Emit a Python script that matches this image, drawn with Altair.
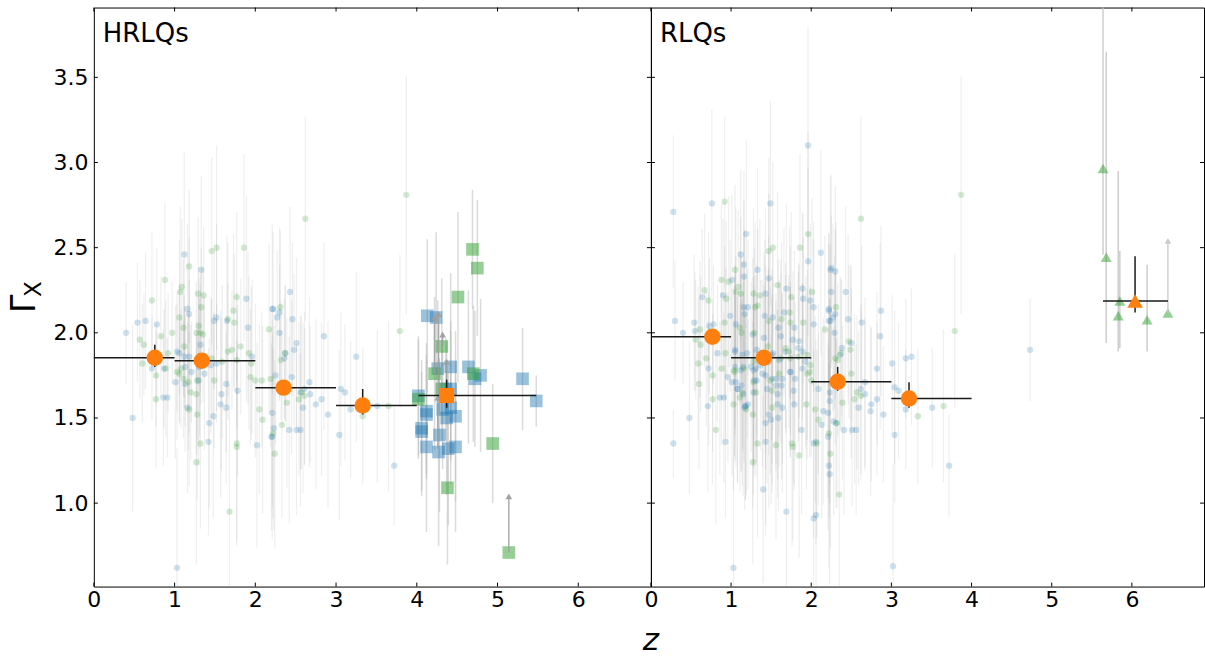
import altair as alt
import pandas as pd

# ---------------- data ----------------
X_DOMAIN = [0, 6.9]
Y_DOMAIN = [0.51, 3.91]
X_TICKS = [0, 1, 2, 3, 4, 5, 6]
Y_TICKS = [1.0, 1.5, 2.0, 2.5, 3.0, 3.5]

# HRLQs panel: faint circles [z, Gamma, err]
HR_BLUE = [[0.40,2.00,0.30],[0.54,2.06,0.35],[0.64,2.07,0.40],[0.78,2.05,0.45],[1.12,2.46,0.60],[1.33,2.37,0.55],
 [1.16,2.14,0.50],[1.18,2.11,0.45],[1.52,2.09,0.55],[1.49,2.07,0.40],[1.65,2.07,0.50],[1.89,2.20,0.60],[1.91,2.03,0.45],
 [2.21,2.14,0.50],[1.03,1.89,0.35],[1.06,1.88,0.40],[1.12,1.86,0.30],[1.18,1.86,0.45],[1.32,1.93,0.35],[1.30,1.82,0.50],
 [1.45,1.81,0.40],[1.52,1.82,0.35],[0.72,1.79,0.30],[0.87,1.79,0.35],[1.01,1.71,0.45],[1.13,1.70,0.40],[1.21,1.77,0.30],
 [1.13,1.80,0.35],[1.31,1.80,0.40],[1.37,1.76,0.45],[1.30,1.72,0.50],[1.64,1.70,0.40],[1.58,1.64,0.45],[1.78,1.66,0.50],
 [1.57,1.58,0.55],[1.64,1.56,0.45],[1.16,1.56,0.50],[0.86,1.62,0.40],[0.91,1.62,0.35],[0.48,1.50,0.55],[1.48,1.51,0.60],
 [1.43,1.47,0.50],[1.42,1.36,0.55],[2.02,1.34,0.60],[1.96,1.86,0.45],[2.20,1.39,0.55],[1.03,0.62,0.70],[2.43,2.24,0.50],
 [2.22,2.14,0.45],[2.27,2.09,0.40],[2.30,2.12,0.50],[2.46,2.08,0.45],[2.30,2.00,0.40],[2.51,1.94,0.50],[2.48,1.90,0.45],
 [2.37,1.88,0.40],[2.36,1.85,0.35],[2.25,1.75,0.40],[2.45,1.74,0.45],[2.67,1.71,0.50],[2.61,1.67,0.45],[2.68,1.64,0.40],
 [2.56,1.65,0.45],[2.75,1.58,0.50],[2.82,1.61,0.45],[2.90,1.52,0.55],[2.59,1.56,0.50],[2.21,1.53,0.55],[2.23,1.44,0.60],
 [2.42,1.43,0.55],[2.51,1.43,0.50],[2.56,1.43,0.45],[3.18,1.55,0.40],[3.06,1.67,0.45],[3.11,1.65,0.40],[3.04,1.40,0.50],
 [2.85,1.98,0.55],[3.25,1.86,0.50],[3.51,1.57,0.45],[3.72,1.22,0.35],[2.21,1.39,0.60]]
HR_GREEN = [[0.88,2.31,0.45],[0.72,2.19,0.40],[1.46,2.48,0.55],[1.52,2.50,0.60],[1.86,2.50,0.55],[1.18,2.39,0.45],
 [1.09,2.27,0.40],[1.07,2.24,0.50],[1.29,2.23,0.45],[1.36,2.22,0.40],[1.33,2.15,0.35],[1.06,2.09,0.45],[1.11,2.03,0.40],
 [1.30,2.04,0.35],[1.27,2.00,0.30],[1.32,2.00,0.35],[1.35,1.99,0.40],[1.77,2.21,0.50],[1.73,2.13,0.45],[1.74,2.06,0.40],
 [0.83,1.98,0.35],[0.97,2.00,0.30],[0.57,1.96,0.35],[0.62,1.93,0.30],[0.60,1.82,0.35],[0.77,1.75,0.30],[0.92,1.88,0.35],
 [0.89,1.79,0.40],[1.12,1.92,0.30],[1.08,1.79,0.35],[1.03,1.77,0.40],[1.06,1.76,0.30],[1.11,1.73,0.35],[1.17,1.71,0.40],
 [1.28,1.72,0.35],[1.49,1.72,0.40],[1.59,1.83,0.45],[1.66,1.89,0.40],[1.71,1.90,0.35],[1.82,1.92,0.40],[1.92,1.88,0.45],
 [2.17,2.02,0.50],[1.94,1.74,0.40],[2.00,1.72,0.45],[2.08,1.72,0.40],[2.05,1.55,0.50],[2.09,1.49,0.55],[1.77,1.35,0.60],
 [1.77,1.33,0.55],[1.32,1.35,0.50],[1.27,1.24,0.60],[1.20,1.65,0.40],[1.27,1.64,0.35],[1.18,1.55,0.45],[1.28,1.52,0.50],
 [0.77,1.61,0.40],[1.66,2.08,0.45],[1.46,1.85,0.35],[1.77,1.84,0.40],[1.95,1.82,0.45],[1.68,0.95,0.75],[2.62,2.67,0.60],
 [2.31,2.15,0.45],[2.37,1.88,0.40],[2.32,1.84,0.35],[2.19,1.73,0.40],[2.54,1.61,0.45],[2.61,1.63,0.40],[2.57,1.65,0.45],
 [2.39,1.59,0.50],[2.33,1.46,0.55],[2.22,1.41,0.50],[2.24,1.29,0.55],[3.33,1.51,0.40],[3.65,1.57,0.50],[3.79,2.01,0.45],
 [3.87,2.81,0.70]]
# HRLQs high-z squares [z, Gamma, err]
HR_SQ_BLUE = [[4.13,2.10,0.45],[4.24,2.09,0.50],[4.26,1.79,0.40],[4.42,1.80,0.55],[4.64,1.80,0.45],[4.72,1.73,0.40],
 [4.79,1.75,0.45],[5.31,1.73,0.30],[5.48,1.60,0.15],[4.02,1.63,0.35],[4.36,1.67,0.30],[4.42,1.67,0.40],[4.32,1.55,0.35],
 [4.42,1.56,0.45],[4.12,1.54,0.40],[4.12,1.52,0.35],[4.48,1.51,0.50],[4.37,1.50,0.45],[4.06,1.44,0.40],[4.06,1.42,0.35],
 [4.28,1.40,0.45],[4.12,1.33,0.50],[4.27,1.30,0.55],[4.39,1.32,0.45],[4.48,1.33,0.50]]
HR_SQ_GREEN = [[4.69,2.49,0.35],[4.75,2.38,0.40],[4.51,2.21,0.50],[4.31,1.92,0.40],[4.22,1.76,0.45],[4.70,1.76,0.40],
 [4.02,1.61,0.35],[4.31,1.67,0.30],[4.94,1.35,0.35],[4.38,1.09,0.45],[5.14,0.71,0.0]]
# lower limits [z, Gamma, arrow tip]
HR_ARROWS = [[4.22,1.76,2.09],[4.27,1.60,2.11],[4.32,1.92,1.99],[4.37,1.66,1.83],[4.26,1.32,1.62],[5.14,0.71,1.04]]
# binned means [z, Gamma, zlo, zhi, Glo, Ghi]
HR_BINS = [[0.755,1.854,0,1,1.80,1.93],[1.337,1.836,1,2,1.80,1.87],[2.35,1.678,2,3,1.64,1.71],[3.33,1.573,3,4,1.52,1.67]]
HR_HIGHZ = [[4.37,1.632,4.02,5.48,1.56,1.725]]

# RLQs panel
RL_BLUE = [[0.28,2.71,0.45],[0.76,2.76,0.55],[1.49,2.76,0.60],[1.96,3.10,0.70],[1.19,2.58,0.55],[1.12,2.46,0.50],
 [1.16,2.40,0.55],[1.16,2.33,0.45],[1.33,2.37,0.60],[1.47,2.32,0.50],[1.96,2.42,0.55],[2.12,2.47,0.60],[2.24,2.37,0.55],
 [1.69,2.26,0.50],[1.89,2.26,0.45],[1.01,2.31,0.50],[0.90,2.22,0.45],[0.64,2.21,0.40],[1.90,2.20,0.50],[1.99,2.19,0.45],
 [2.03,2.15,0.50],[2.22,2.13,0.45],[1.43,2.23,0.50],[1.16,2.15,0.45],[1.21,2.15,0.40],[0.99,2.10,0.45],[1.06,2.05,0.40],
 [1.17,2.11,0.50],[1.42,2.10,0.45],[1.52,2.09,0.40],[1.66,2.12,0.50],[1.79,2.03,0.45],[1.59,2.03,0.40],[2.03,2.05,0.50],
 [2.22,2.07,0.45],[0.30,2.07,0.35],[0.54,2.06,0.40],[0.78,2.05,0.35],[0.73,2.04,0.40],[0.40,2.00,0.30],[0.55,2.01,0.35],
 [1.27,1.99,0.45],[1.41,1.97,0.50],[1.62,1.98,0.45],[1.77,1.96,0.40],[1.85,1.95,0.45],[0.83,1.88,0.40],[1.05,1.89,0.45],
 [1.32,1.90,0.50],[1.52,1.88,0.45],[1.89,1.89,0.40],[0.72,1.79,0.45],[1.15,1.80,0.50],[1.41,1.83,0.45],[1.74,1.77,0.50],
 [1.28,1.78,0.55],[2.25,2.38,0.55],[2.30,2.36,0.50],[2.25,2.24,0.45],[2.43,2.24,0.50],[2.22,2.14,0.45],[2.30,2.11,0.50],
 [2.27,2.09,0.55],[2.24,2.07,0.45],[2.46,2.08,0.50],[2.63,2.06,0.45],[2.87,2.13,0.50],[2.29,2.00,0.45],[2.86,1.98,0.55],
 [2.50,1.94,0.45],[2.38,1.91,0.40],[2.36,1.87,0.45],[3.01,1.82,0.40],[3.18,1.85,0.35],[3.25,1.86,0.40],[2.82,1.79,0.45],
 [0.28,1.35,0.20],[0.48,1.50,0.45],[0.71,1.57,0.50],[0.86,1.62,0.45],[0.91,1.62,0.50],[0.93,1.36,0.45],[0.96,1.74,0.50],
 [1.01,1.71,0.55],[1.13,1.69,0.50],[1.08,1.67,0.55],[1.15,1.64,0.60],[1.18,1.57,0.55],[1.21,1.58,0.50],[1.29,1.72,0.55],
 [1.32,1.72,0.50],[1.39,1.76,0.55],[1.56,1.73,0.50],[1.63,1.69,0.55],[1.58,1.64,0.50],[1.58,1.58,0.55],[1.64,1.56,0.50],
 [1.78,1.66,0.55],[1.79,1.58,0.50],[1.47,1.52,0.55],[1.50,1.49,0.50],[1.59,1.50,0.55],[1.43,1.47,0.60],[1.43,1.36,0.55],
 [1.88,1.43,0.50],[2.03,1.35,0.55],[2.06,1.36,0.60],[2.09,1.67,0.50],[2.15,1.54,0.55],[2.21,1.53,0.50],[2.23,1.65,0.55],
 [2.23,1.60,0.60],[2.28,1.48,0.55],[2.31,1.47,0.50],[2.21,1.39,0.55],[2.22,1.22,0.60],[2.23,1.17,0.65],[2.41,1.43,0.50],
 [2.51,1.43,0.45],[2.56,1.43,0.50],[2.13,1.46,0.55],[2.59,1.56,0.45],[2.62,1.67,0.50],[2.67,1.64,0.45],[2.67,1.71,0.50],
 [2.75,1.58,0.45],[2.74,1.54,0.50],[2.82,1.61,0.45],[2.90,1.52,0.40],[3.04,1.68,0.45],[3.09,1.66,0.40],[3.18,1.55,0.35],
 [3.04,1.40,0.40],[3.51,1.56,0.35],[3.72,1.22,0.30],[1.03,0.62,0.65],[3.02,0.63,0.60],[1.40,1.08,0.55],[1.69,0.95,0.60],
 [2.03,0.91,0.65],[2.06,0.93,0.60],[4.73,1.90,0.30],[1.05,1.90,0.50],[1.14,1.87,0.55],[1.20,1.88,0.50],[1.05,1.80,0.55],
 [1.12,1.78,0.60],[1.25,1.80,0.50],[1.31,1.79,0.55],[1.37,1.81,0.50],[1.47,1.83,0.55],[1.51,1.87,0.50],[1.60,1.84,0.45],
 [1.43,1.75,0.55],[1.51,1.73,0.50],[1.18,1.57,0.55],[1.17,1.56,0.60],[1.06,1.71,0.50],[1.08,1.67,0.55],[1.28,1.65,0.60],
 [1.45,1.67,0.55],[1.56,1.69,0.50],[1.64,1.73,0.50],[1.80,1.73,0.45],[1.89,1.79,0.50],[1.74,1.77,0.50],[1.68,1.89,0.45],
 [1.84,1.91,0.50],[1.93,1.83,0.50]]
RL_GREEN = [[0.92,2.77,0.50],[1.96,2.58,0.60],[1.47,2.48,0.55],[1.52,2.50,0.50],[1.86,2.50,0.55],[1.05,2.37,0.50],
 [0.88,2.31,0.45],[0.97,2.30,0.50],[1.09,2.27,0.45],[1.06,2.24,0.50],[1.12,2.23,0.45],[1.28,2.23,0.50],[1.36,2.22,0.45],
 [1.58,2.28,0.55],[1.75,2.21,0.50],[2.01,2.24,0.55],[0.67,2.25,0.45],[0.72,2.19,0.40],[0.94,2.20,0.45],[1.30,2.15,0.50],
 [1.33,2.16,0.45],[1.47,2.07,0.50],[1.63,2.08,0.45],[1.73,2.12,0.50],[1.74,2.06,0.45],[1.90,2.06,0.50],[2.17,2.02,0.55],
 [0.92,2.06,0.45],[0.61,2.02,0.40],[0.56,1.96,0.35],[0.62,1.93,0.40],[1.11,2.03,0.45],[1.29,2.00,0.50],[1.13,2.00,0.45],
 [0.69,1.85,0.40],[0.59,1.82,0.45],[0.93,1.88,0.50],[1.46,1.92,0.45],[1.68,1.91,0.50],[1.72,1.89,0.45],[1.95,1.87,0.50],
 [0.88,1.79,0.45],[1.04,1.78,0.50],[1.60,1.76,0.55],[1.98,1.77,0.50],[3.87,2.81,0.70],[2.62,2.67,0.60],[3.79,2.01,0.45],
 [2.31,2.15,0.50],[2.47,1.95,0.45],[2.49,1.90,0.50],[2.37,1.88,0.45],[2.30,1.85,0.50],[2.33,1.84,0.45],[2.50,1.76,0.50],
 [0.60,1.70,0.50],[0.77,1.75,0.45],[0.77,1.61,0.50],[0.81,1.43,0.55],[1.03,1.58,0.50],[1.11,1.62,0.55],[1.19,1.55,0.50],
 [1.27,1.52,0.55],[1.27,1.24,0.60],[1.33,1.35,0.55],[1.51,1.56,0.50],[1.56,1.34,0.55],[1.76,1.35,0.60],[1.77,1.33,0.55],
 [1.85,1.28,0.60],[1.94,1.58,0.50],[2.05,1.55,0.55],[2.09,1.49,0.50],[2.07,1.35,0.55],[2.22,1.41,0.50],[2.24,1.29,0.55],
 [2.32,1.47,0.50],[2.35,1.05,0.60],[2.39,1.59,0.45],[2.54,1.61,0.50],[2.57,1.65,0.45],[2.62,1.63,0.50],[3.33,1.51,0.40],
 [3.65,1.57,0.45],[1.95,1.76,0.50],[2.00,1.72,0.45],[1.04,1.77,0.50],[1.16,1.79,0.55],[1.28,1.71,0.50],[1.49,1.72,0.55],
 [1.62,1.85,0.50],[1.74,1.85,0.45],[1.28,1.83,0.50],[1.43,1.84,0.55],[1.84,1.86,0.50],[1.99,1.81,0.45],[1.14,1.65,0.55],
 [1.31,1.65,0.50],[1.51,1.66,0.55]]
# RLQs high-z triangles [z, Gamma, Glo, Ghi]
RL_TRI = [[5.64,2.965,2.46,3.95],[5.68,2.444,1.94,3.65],[5.85,2.187,1.91,2.48],[5.83,2.10,1.89,2.95],
 [6.19,2.076,1.89,2.40],[6.45,2.117,2.117,2.117]]
RL_ARROWS = [[6.45,2.117,2.54]]
RL_BINS = [[0.767,1.977,0,1,1.94,2.02],[1.41,1.854,1,2,1.82,1.89],[2.33,1.713,2,3,1.66,1.80],[3.22,1.614,3,4,1.56,1.71]]
RL_HIGHZ = [[6.04,2.187,5.64,6.45,2.12,2.45]]

BLUE = "#1f77b4"
GREEN = "#2ca02c"
ORANGE = "#ff7f0e"
FONT = "DejaVu Sans"
H = 580


def df3(rows):
    d = pd.DataFrame(rows, columns=["x", "y", "e"])
    d["lo"] = d["y"] - d["e"]
    d["hi"] = d["y"] + d["e"]
    return d


def panel(label, blue, green, sq_blue, sq_green, tri, arrows, bins, highz, highz_shape, width, show_y):
    xs = alt.Scale(domain=X_DOMAIN, nice=False, zero=False)
    ys = alt.Scale(domain=Y_DOMAIN, nice=False, zero=False)
    xaxis = alt.Axis(values=X_TICKS, format="d", ticks=False, tickSize=0, domain=False, grid=False,
                     labelFlush=False, labelFontSize=22, labelFont=FONT, labelColor="black",
                     labelPadding=3, title=None)
    if show_y:
        yaxis = alt.Axis(values=Y_TICKS, format=".1f", ticks=False, tickSize=0, domain=False, grid=False,
                         labelFlush=False, labelFontSize=22, labelFont=FONT, labelColor="black",
                         labelPadding=6, title=None)
    else:
        yaxis = None

    def X(f):
        return alt.X(f, type="quantitative", scale=xs, axis=xaxis)

    def Y(f):
        return alt.Y(f, type="quantitative", scale=ys, axis=yaxis)

    layers = []
    pts = pd.concat([df3(blue).assign(c="b"), df3(green).assign(c="g")])
    layers.append(alt.Chart(pts).mark_rule(color="#9a9a9a", opacity=0.16, strokeWidth=1.2, clip=True)
                  .encode(x=X("x"), y=Y("lo"), y2="hi"))
    layers.append(alt.Chart(df3(blue)).mark_point(filled=True, shape="circle", size=40, color=BLUE,
                                                  opacity=0.22, strokeWidth=0)
                  .encode(x=X("x"), y=Y("y")))
    layers.append(alt.Chart(df3(green)).mark_point(filled=True, shape="circle", size=40, color=GREEN,
                                                   opacity=0.22, strokeWidth=0)
                  .encode(x=X("x"), y=Y("y")))
    if sq_blue:
        sq = pd.concat([df3(sq_blue), df3(sq_green)])
        layers.append(alt.Chart(sq).mark_rule(color="#bdbdbd", opacity=0.55, strokeWidth=1.5, clip=True)
                      .encode(x=X("x"), y=Y("lo"), y2="hi"))
        layers.append(alt.Chart(df3(sq_blue)).mark_point(filled=True, shape="square", size=160, color=BLUE,
                                                         opacity=0.45, strokeWidth=0)
                      .encode(x=X("x"), y=Y("y")))
        layers.append(alt.Chart(df3(sq_green)).mark_point(filled=True, shape="square", size=160, color=GREEN,
                                                          opacity=0.5, strokeWidth=0)
                      .encode(x=X("x"), y=Y("y")))
    if tri:
        t = pd.DataFrame(tri, columns=["x", "y", "lo", "hi"])
        layers.append(alt.Chart(t).mark_rule(color="#c8c8c8", opacity=0.9, strokeWidth=1.5, clip=True)
                      .encode(x=X("x"), y=Y("lo"), y2="hi"))
        layers.append(alt.Chart(t).mark_point(filled=True, shape="triangle-up", size=120, color=GREEN,
                                              opacity=0.5, strokeWidth=0)
                      .encode(x=X("x"), y=Y("y")))
    a = pd.DataFrame(arrows, columns=["x", "y", "tip"])
    acol = "#9e9e9e" if sq_blue else "#c8c8c8"
    layers.append(alt.Chart(a).mark_rule(color=acol, opacity=0.85, strokeWidth=1.5)
                  .encode(x=X("x"), y=Y("y"), y2="tip"))
    layers.append(alt.Chart(a).mark_point(filled=True, shape="triangle-up", size=45, color=acol,
                                          opacity=0.95, strokeWidth=0)
                  .encode(x=X("x"), y=Y("tip")))

    b = pd.DataFrame(bins + highz, columns=["x", "y", "xlo", "xhi", "ylo", "yhi"])
    layers.append(alt.Chart(b).mark_rule(color="#1a1a1a", strokeWidth=1.5)
                  .encode(x=X("xlo"), x2="xhi", y=Y("y")))
    layers.append(alt.Chart(b).mark_rule(color="#1a1a1a", strokeWidth=1.5)
                  .encode(x=X("x"), y=Y("ylo"), y2="yhi"))
    bb = pd.DataFrame(bins, columns=["x", "y", "xlo", "xhi", "ylo", "yhi"])
    layers.append(alt.Chart(bb).mark_point(filled=True, shape="circle", size=270, color=ORANGE, opacity=1,
                                           strokeWidth=0)
                  .encode(x=X("x"), y=Y("y")))
    hz = pd.DataFrame(highz, columns=["x", "y", "xlo", "xhi", "ylo", "yhi"])
    layers.append(alt.Chart(hz).mark_point(filled=True, shape=highz_shape,
                                           size=230 if highz_shape == "square" else 240,
                                           color=ORANGE, opacity=1, strokeWidth=0)
                  .encode(x=X("x"), y=Y("y")))

    # inward ticks on all four sides
    xt = pd.DataFrame({"v": X_TICKS})
    yt = pd.DataFrame({"v": Y_TICKS})
    layers.append(alt.Chart(xt).mark_rule(color="black", strokeWidth=1)
                  .encode(x=X("v"), y=alt.value(0), y2=alt.value(4)))
    layers.append(alt.Chart(xt).mark_rule(color="black", strokeWidth=1)
                  .encode(x=X("v"), y=alt.value(H), y2=alt.value(H - 4)))
    layers.append(alt.Chart(yt).mark_rule(color="black", strokeWidth=1)
                  .encode(y=Y("v"), x=alt.value(0), x2=alt.value(4)))
    layers.append(alt.Chart(yt).mark_rule(color="black", strokeWidth=1)
                  .encode(y=Y("v"), x=alt.value(width - 4), x2=alt.value(width)))

    lab = pd.DataFrame({"t": [label]})
    layers.append(alt.Chart(lab).mark_text(align="left", baseline="alphabetic", fontSize=26, font=FONT,
                                           color="black")
                  .encode(x=alt.value(9), y=alt.value(35), text="t:N"))
    if show_y:
        g = pd.DataFrame({"t": ["Γ"]})
        layers.append(alt.Chart(g).mark_text(align="left", baseline="alphabetic", fontSize=33, font=FONT,
                                             angle=270, color="black")
                      .encode(x=alt.value(-59), y=alt.value(306), text="t:N"))
        s = pd.DataFrame({"t": ["X"]})
        layers.append(alt.Chart(s).mark_text(align="left", baseline="alphabetic", fontSize=23, font=FONT,
                                             angle=270, color="black")
                      .encode(x=alt.value(-53), y=alt.value(290), text="t:N"))
    else:
        z = pd.DataFrame({"t": ["z"]})
        layers.append(alt.Chart(z).mark_text(align="center", baseline="alphabetic", fontSize=31, font=FONT,
                                             fontStyle="italic", color="black")
                      .encode(x=alt.value(0), y=alt.value(644), text="t:N"))
    return alt.layer(*layers).properties(width=width, height=H)


left = panel("HRLQs", HR_BLUE, HR_GREEN, HR_SQ_BLUE, HR_SQ_GREEN, None, HR_ARROWS, HR_BINS, HR_HIGHZ,
             "square", 558, True)
right = panel("RLQs", RL_BLUE, RL_GREEN, None, None, RL_TRI, RL_ARROWS, RL_BINS, RL_HIGHZ,
              "triangle-up", 554, False)

chart = (alt.hconcat(left, right, spacing=0, bounds="flush")
         .properties(padding={"left": 8, "top": 6, "right": 0, "bottom": 0})
         .configure(font=FONT)
         .configure_view(stroke="black", strokeWidth=1))

chart.save("out.html", embed_options={"renderer": "svg", "actions": False})
